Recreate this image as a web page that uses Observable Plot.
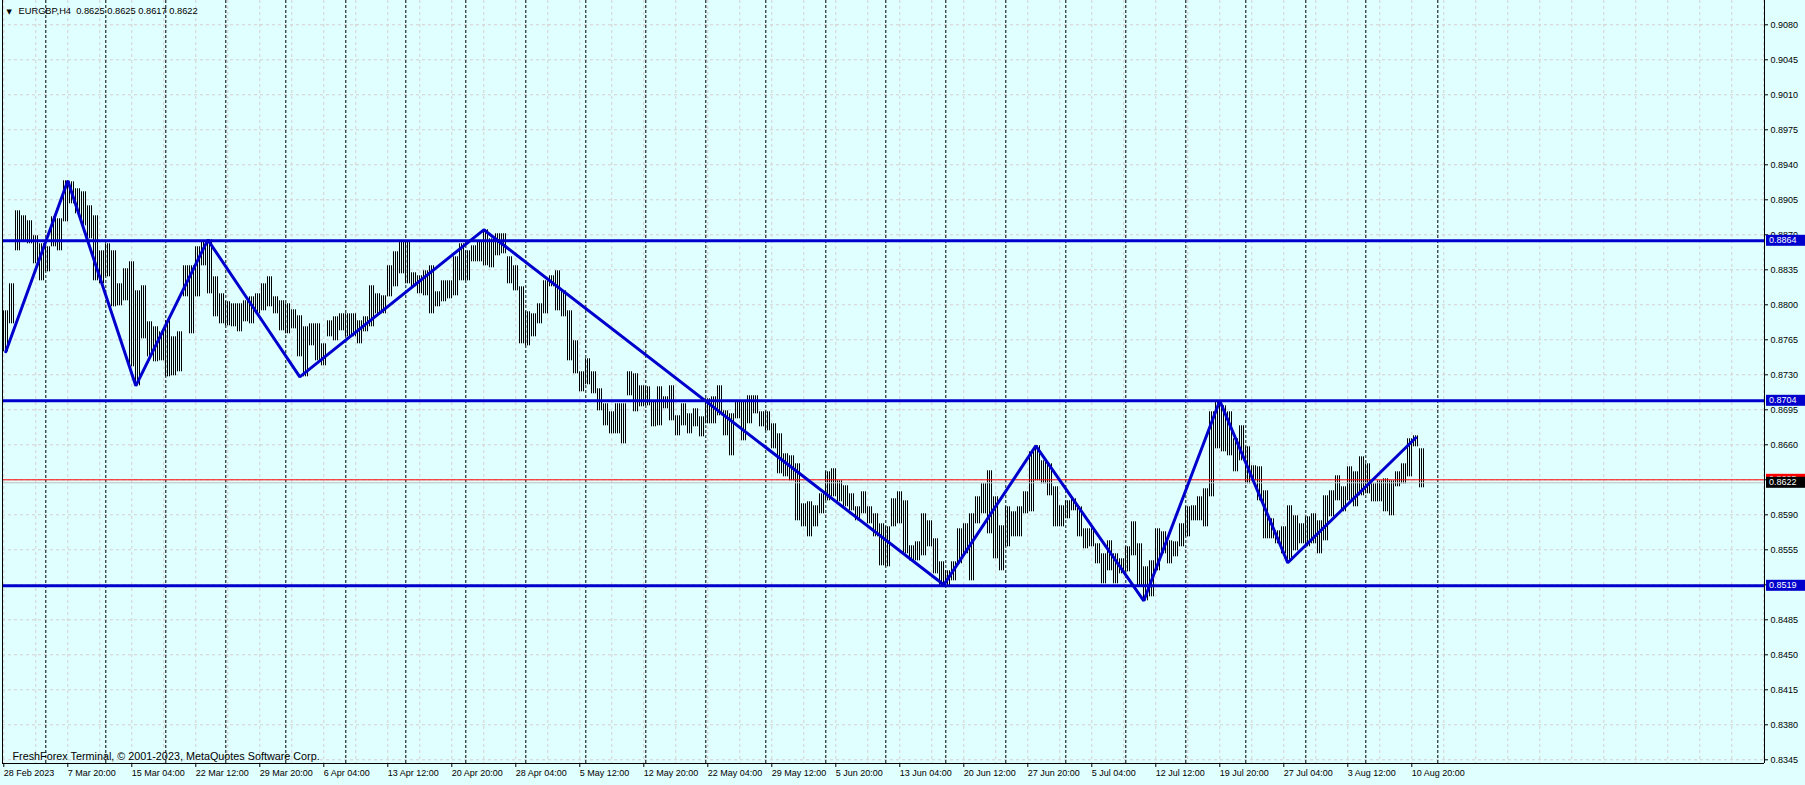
<!DOCTYPE html>
<html><head><meta charset="utf-8">
<script src="https://cdn.jsdelivr.net/npm/d3@7"></script>
<script src="https://cdn.jsdelivr.net/npm/@observablehq/plot@0.6"></script>
<style>html,body{margin:0;padding:0;background:#e0ffff;overflow:hidden}</style>
</head><body><div id="chart"></div>
<script>
// Each value pair = one block of three H4 bars (high, low)
const blockHigh = [
0.8794,0.8821,0.8894,0.8889,0.8884,0.8869,0.8861,0.8858,0.8888,0.8886,
0.8924,0.8923,0.8916,0.8913,0.8899,0.8889,0.8854,0.8861,0.8854,0.8821,
0.8836,0.8843,0.8814,0.8819,0.8783,0.8778,0.8773,0.8784,0.8768,0.8773,
0.8839,0.8839,0.8858,0.8863,0.8865,0.8828,0.8811,0.8803,0.8801,0.8801,
0.8804,0.8808,0.8811,0.8821,0.8828,0.8808,0.8804,0.8801,0.8795,0.8789,
0.8778,0.8781,0.8781,0.8761,0.8784,0.8788,0.8791,0.8791,0.8791,0.8784,
0.8788,0.8819,0.8811,0.8809,0.8839,0.8853,0.8863,0.8864,0.8832,0.8829,
0.8834,0.8839,0.8813,0.8824,0.8824,0.8848,0.8861,0.8854,0.8859,0.8864,
0.8875,0.8866,0.8871,0.8871,0.8848,0.8839,0.8818,0.8793,0.8791,0.8801,
0.8824,0.8829,0.8834,0.8814,0.8794,0.8764,0.8733,0.8746,0.8733,0.8716,
0.8701,0.8693,0.8701,0.8701,0.8733,0.8731,0.8719,0.8718,0.8704,0.8718,
0.8708,0.8719,0.8689,0.8701,0.8691,0.8696,0.8688,0.8706,0.8708,0.8719,
0.8694,0.8691,0.8704,0.8704,0.8709,0.8709,0.8693,0.8693,0.8681,0.8671,
0.8651,0.8649,0.8641,0.8601,0.8603,0.8599,0.8611,0.8633,0.8636,0.8624,
0.8619,0.8611,0.8598,0.8613,0.8598,0.8591,0.8581,0.8578,0.8606,0.8613,
0.8604,0.8559,0.8563,0.8591,0.8584,0.8566,0.8543,0.8534,0.8543,0.8576,
0.8581,0.8591,0.8608,0.8621,0.8634,0.8608,0.8579,0.8598,0.8593,0.8598,
0.8613,0.8653,0.8659,0.8644,0.8641,0.8618,0.8599,0.8604,0.8606,0.8598,
0.8576,0.8576,0.8561,0.8551,0.8564,0.8551,0.8546,0.8558,0.8583,0.8561,
0.8538,0.8544,0.8576,0.8573,0.8564,0.8563,0.8581,0.8598,0.8599,0.8608,
0.8616,0.8693,0.8704,0.8699,0.8693,0.8666,0.8679,0.8658,0.8639,0.8638,
0.8614,0.8586,0.8574,0.8578,0.8599,0.8589,0.8581,0.8588,0.8591,0.8584,
0.8609,0.8614,0.8629,0.8618,0.8638,0.8633,0.8648,0.8641,0.8621,0.8624,
0.8626,0.8624,0.8633,0.8641,0.8666,0.8669,0.8656];
const blockLow = [
0.8753,0.8781,0.8854,0.8864,0.8861,0.8841,0.8824,0.8833,0.8858,0.8854,
0.8883,0.8901,0.8891,0.8879,0.8866,0.8824,0.8821,0.8828,0.8798,0.8799,
0.8804,0.8738,0.8719,0.8766,0.8748,0.8743,0.8744,0.8728,0.8729,0.8733,
0.8808,0.8771,0.8808,0.8839,0.8811,0.8788,0.8781,0.8779,0.8778,0.8773,
0.8783,0.8781,0.8791,0.8794,0.8798,0.8791,0.8774,0.8771,0.8776,0.8748,
0.8728,0.8759,0.8744,0.8739,0.8768,0.8764,0.8774,0.8768,0.8768,0.8761,
0.8773,0.8778,0.8791,0.8791,0.8808,0.8818,0.8831,0.8821,0.8818,0.8811,
0.8809,0.8791,0.8798,0.8803,0.8806,0.8809,0.8824,0.8824,0.8843,0.8843,
0.8839,0.8837,0.8849,0.8851,0.8821,0.8814,0.8761,0.8759,0.8768,0.8781,
0.8791,0.8818,0.8794,0.8788,0.8744,0.8731,0.8713,0.8720,0.8711,0.8694,
0.8679,0.8671,0.8671,0.8661,0.8709,0.8693,0.8698,0.8699,0.8678,0.8679,
0.8696,0.8684,0.8669,0.8679,0.8671,0.8678,0.8668,0.8681,0.8681,0.8689,
0.8669,0.8649,0.8686,0.8664,0.8681,0.8691,0.8678,0.8674,0.8656,0.8631,
0.8628,0.8624,0.8584,0.8578,0.8568,0.8578,0.8591,0.8604,0.8608,0.8603,
0.8598,0.8594,0.8584,0.8591,0.8581,0.8568,0.8539,0.8538,0.8578,0.8581,
0.8551,0.8544,0.8544,0.8549,0.8558,0.8531,0.8519,0.8518,0.8524,0.8541,
0.8551,0.8524,0.8581,0.8591,0.8571,0.8546,0.8534,0.8558,0.8568,0.8568,
0.8591,0.8593,0.8624,0.8621,0.8609,0.8578,0.8578,0.8586,0.8594,0.8568,
0.8556,0.8558,0.8541,0.8521,0.8534,0.8521,0.8531,0.8533,0.8549,0.8518,
0.8504,0.8508,0.8534,0.8551,0.8541,0.8548,0.8558,0.8568,0.8584,0.8584,
0.8578,0.8608,0.8656,0.8653,0.8649,0.8633,0.8644,0.8621,0.8624,0.8604,
0.8566,0.8566,0.8561,0.8551,0.8544,0.8554,0.8561,0.8558,0.8561,0.8551,
0.8564,0.8588,0.8604,0.8593,0.8604,0.8598,0.8609,0.8611,0.8603,0.8603,
0.8593,0.8589,0.8618,0.8621,0.8628,0.8658,0.8617];

// ZigZag pivots (bar index, price)
const zigzagBar   = [1, 32, 66, 102, 148, 240, 470, 516, 570, 608, 642, 706];
const zigzagPrice = [0.8753, 0.8924, 0.8719, 0.8865, 0.8728, 0.8875, 0.8520, 0.8659, 0.8504, 0.8704, 0.8542, 0.8667];

// Horizontal levels and price lines
const levels = [0.8864, 0.8704, 0.8519];
const askPrice = 0.8625;
const bidPrice = 0.8622;

// Price-axis ticks
const yTicks = [0.8345,0.8380,0.8415,0.8450,0.8485,0.8520,0.8555,0.8590,0.8625,0.8660,0.8695,
                0.8730,0.8765,0.8800,0.8835,0.8870,0.8905,0.8940,0.8975,0.9010,0.9045,0.9080];

// Time-axis labels (bar index of each label)
const xLabelBars = [0,32,64,96,128,160,192,224,256,288,320,352,384,416,448,480,512,544,576,608,640,672,704];
const xLabels = ["28 Feb 2023","7 Mar 20:00","15 Mar 04:00","22 Mar 12:00","29 Mar 20:00","6 Apr 04:00",
  "13 Apr 12:00","20 Apr 20:00","28 Apr 04:00","5 May 12:00","12 May 20:00","22 May 04:00","29 May 12:00",
  "5 Jun 20:00","13 Jun 04:00","20 Jun 12:00","27 Jun 20:00","5 Jul 04:00","12 Jul 12:00","19 Jul 20:00",
  "27 Jul 04:00","3 Aug 12:00","10 Aug 20:00"];

// Weekly period separators (bar index)
const weekBars = [21,51,81,111,141,171,201,231,261,291,321,351,381,411,441,471,501,531,561,591,621,651,681,717];

const headerText = "EURGBP,H4\u00a0 0.8625 0.8625 0.8617 0.8622";
const copyrightText = "FreshForex Terminal, \u00a9 2001-2023, MetaQuotes Software Corp.";

// ---- build ----
const blocks = blockHigh.map((h, i) => ({first: i * 3, high: h, low: blockLow[i]}));
const zigzag = zigzagBar.map((b, i) => ({bar: b, price: zigzagPrice[i]}));
const xDomain = [-0.65, 880.35];
const yDomain = [0.83413, 0.91043];
const gridBars = d3.range(0, xDomain[1], 16);
const labelOf = new Map(xLabelBars.map((b, i) => [b, xLabels[i]]));
const blue = "#0000cd";
const gridColor = "#d6ced2";
const fontFamily = "'Liberation Sans', Arial, sans-serif";

const chart = Plot.plot({
  width: 1805, height: 785,
  marginLeft: 2, marginRight: 41, marginTop: 0, marginBottom: 22,
  x: {domain: xDomain, label: null},
  y: {domain: yDomain, label: null},
  style: {background: "#e0ffff", color: "#000", fontFamily, fontSize: "9px"},
  marks: [
    Plot.ruleY(yTicks, {stroke: gridColor, strokeDasharray: "3,3"}),
    Plot.ruleX(gridBars, {stroke: gridColor, strokeDasharray: "3,3"}),
    Plot.ruleX(weekBars, {stroke: "#000", strokeDasharray: "3,2"}),
    // each block of three H4 bars, drawn as three 1px bar lines (striped fill)
    Plot.rect(blocks, {x1: d => d.first - 0.5, x2: d => d.first + 2.5, y1: "low", y2: "high", fill: "url(#barStripes)"}),
    Plot.ruleY([bidPrice], {stroke: "#c0c0c0"}),
    Plot.ruleY([askPrice], {stroke: "#ff0000"}),
    Plot.ruleY(levels, {stroke: blue, strokeWidth: 3}),
    Plot.line(zigzag, {x: "bar", y: "price", stroke: blue, strokeWidth: 3, strokeLinejoin: "miter"}),
    Plot.ruleX([xDomain[0]], {stroke: "#000"}),
    Plot.ruleX([xDomain[1]], {stroke: "#000"}),
    Plot.ruleY([yDomain[0]], {stroke: "#000"}),
    Plot.axisY(yTicks, {anchor: "right", tickSize: 3, tickPadding: 3, tickFormat: d => d.toFixed(4), fontSize: 9}),
    Plot.axisX(xLabelBars, {anchor: "bottom", tickSize: 4, tickPadding: 2, tickFormat: d => labelOf.get(d),
      textAnchor: "start", dx: 0, fontSize: 9}),
    Plot.text(["\u25bc"], {frameAnchor: "top-left", dx: 4, dy: 11, textAnchor: "start", lineAnchor: "middle",
      fontSize: 7, fontFamily: "DejaVu Sans"}),
    Plot.text([headerText], {frameAnchor: "top-left", dx: 16, dy: 11, textAnchor: "start", lineAnchor: "middle", fontSize: 9.3}),
    Plot.text([copyrightText], {frameAnchor: "bottom-left", dx: 10, dy: -6.5, textAnchor: "start", lineAnchor: "middle", fontSize: 10.8})
  ]
});
document.getElementById("chart").appendChild(chart);

const svg = d3.select(chart);
// stripe pattern: 1px bar line every 2px, aligned on the bar positions
svg.insert("defs", ":first-child")
  .append("pattern").attr("id", "barStripes").attr("patternUnits", "userSpaceOnUse")
  .attr("x", 1).attr("y", 0).attr("width", 2).attr("height", 4)
  .append("rect").attr("x", 0).attr("y", 0).attr("width", 1).attr("height", 4).attr("fill", "#000");

// price tags on the right scale, placed with the plot's own scales
const ys = chart.scale("y");
const xr = chart.scale("x").range;
const tags = [
  ...levels.map(p => ({price: p, fill: blue})),
  {price: askPrice, fill: "#ff0000"},
  {price: bidPrice, fill: "#000000"}
];
const g = svg.append("g").attr("font-family", fontFamily).attr("font-size", 9).attr("text-anchor", "start");
for (const t of tags) {
  const py = ys.apply(t.price);
  g.append("rect").attr("x", xr[1] + 2).attr("y", py - 5.5).attr("width", 1805 - xr[1] - 2).attr("height", 11).attr("fill", t.fill);
  g.append("text").attr("x", xr[1] + 5).attr("y", py).attr("dy", "0.35em").attr("text-anchor", "start")
    .attr("fill", "#fff").text(t.price.toFixed(4));
}
</script>
</body></html>
